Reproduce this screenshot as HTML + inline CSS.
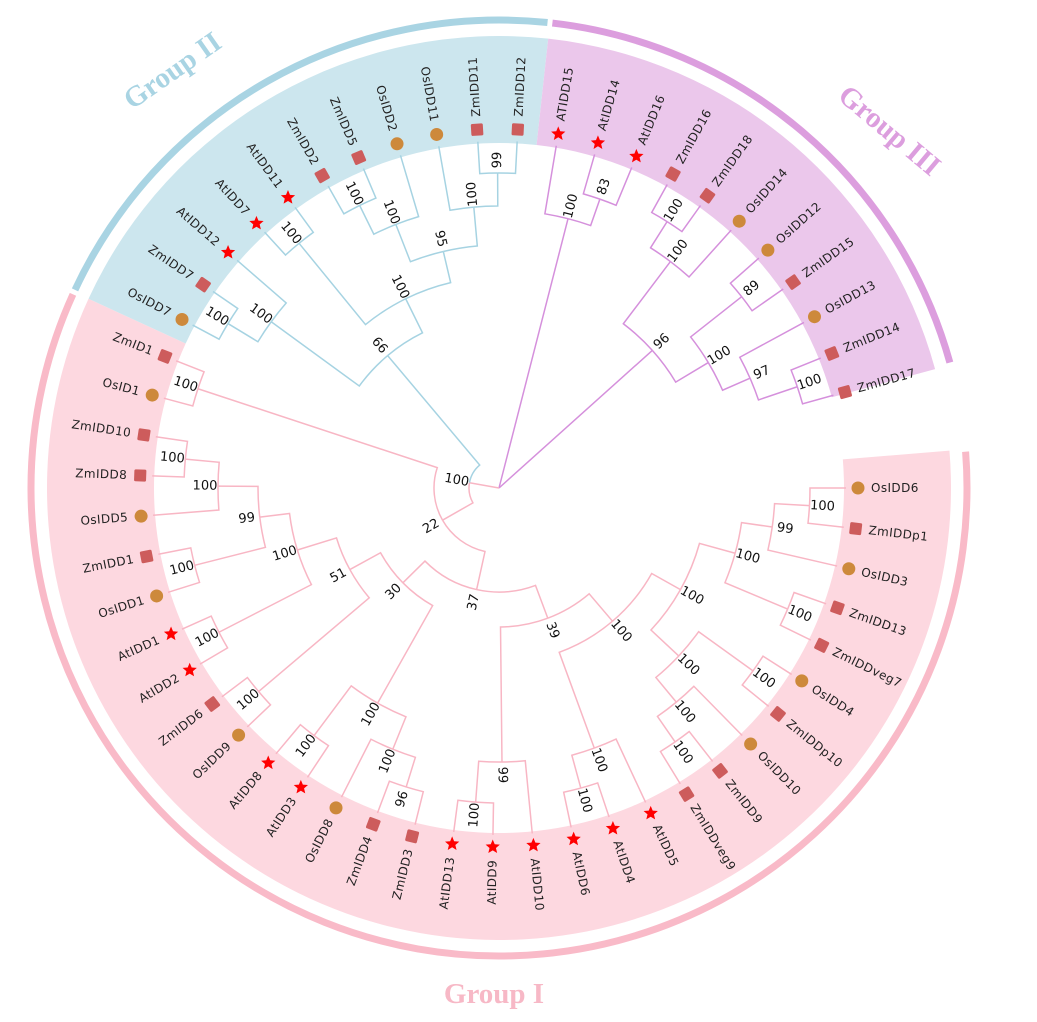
<!DOCTYPE html>
<html><head><meta charset="utf-8"><style>
html,body{margin:0;padding:0;background:#fff;}
svg{display:block;}
.lab{font-family:"DejaVu Sans","Liberation Sans",sans-serif;font-size:12px;fill:#222;letter-spacing:0.4px;}
.bs{font-family:"DejaVu Sans","Liberation Sans",sans-serif;font-size:13px;fill:#111;}
.grp{font-family:"Liberation Serif",serif;font-weight:bold;font-size:29px;}
</style></head><body>
<svg id="tree" width="1037" height="1022" viewBox="0 0 1037 1022" xmlns="http://www.w3.org/2000/svg">
<g id="bandsG"></g>
<g id="branchesG"></g>
<g id="bslabelsG"></g>
<g id="leavesG"></g>
<text class="grp" x="172" y="80" fill="#a9d4e3" text-anchor="middle" transform="rotate(-35 172 70)">Group II</text>
<text class="grp" x="890" y="140" fill="#dc9ede" text-anchor="middle" transform="rotate(40 890 130)">Group III</text>
<text class="grp" x="494" y="1003" fill="#f7b8c6" text-anchor="middle">Group I</text>
</svg>
<script>
const leafNames = ["OsIDD6","ZmIDDp1","OsIDD3","ZmIDD13","ZmIDDveg7","OsIDD4","ZmIDDp10","OsIDD10","ZmIDD9","ZmIDDveg9","AtIDD5","AtIDD4","AtIDD6","AtIDD10","AtIDD9","AtIDD13","ZmIDD3","ZmIDD4","OsIDD8","AtIDD3","AtIDD8","OsIDD9","ZmIDD6","AtIDD2","AtIDD1","OsIDD1","ZmIDD1","OsIDD5","ZmIDD8","ZmIDD10","OsID1","ZmID1",
"OsIDD7","ZmIDD7","AtIDD12","AtIDD7","AtIDD11","ZmIDD2","ZmIDD5","OsIDD2","OsIDD11","ZmIDD11","ZmIDD12",
"ATIDD15","AtIDD14","AtIDD16","ZmIDD16","ZmIDD18","OsIDD14","OsIDD12","ZmIDD15","OsIDD13","ZmIDD14","ZmIDD17"];
const groupSizes = [32, 11, 11];
const groupNames = ["I","II","III"];
function N(r, bs, ...c){ return {r:r, bs:bs, c:c}; }
// Group III
const t46 = N(315,100,46,47);
const t48 = N(284,100,t46,48);
const t49 = N(309,89,49,50);
const t52 = N(315,100,52,53);
const t51 = N(274,97,51,t52);
const t49b = N(244,100,t49,t51);
const g3b = N(206,96,t48,t49b);
const g3a = N(278,100,43,N(306,83,44,45));
// Group II
const a2 = N(282,100,N(317,100,32,33),34);
const b1 = N(316,100,35,36);
const b2 = N(283,100,N(315,100,37,38),39);
const b3 = N(282,100,40,N(315,99,41,42));
const b4 = N(243,95,b2,b3);
const b0 = N(211,100,b1,b4);
const g2 = N(173,66,a2,b0);
// Group I
const c1 = N(282,100,N(313,96,16,17),18);
const c0 = N(247,100,c1,N(309,100,19,20));
const d3 = N(281,100,27,N(315,100,28,29));
const d2 = N(241,99,N(314,100,25,26),d3);
const d1 = N(211,100,N(315,100,23,24),d2);
const d0 = N(170,51,N(315,100,21,22),d1);
const n30 = N(135,30,c0,d0);
const e0 = N(274,99,13,N(315,100,14,15));
const f1 = N(277,100,10,N(311,100,11,12));
const gA = N(245,100,N(276,99,N(311,100,0,1),2),N(313,100,3,4));
const gB = N(246,100,N(313,100,5,6),N(278,100,7,N(309,100,8,9)));
const gR = N(208,100,gA,gB);
const f0 = N(175,100,f1,gR);
const n39 = N(139,39,e0,f0);
const n37 = N(104,37,n30,n39);
const n22 = N(65,22,N(317,100,30,31),n37);
const n100 = N(30,100,g2,n22);
const treeData = N(0,'',g3a,g3b,n100);

const CX=499, CY=488, START=90, STEP=6.5, TIP=347, MARK=359, LABR=372;
const lineCol={I:"#f8b6c4",II:"#a6d3e2",III:"#d590dc",mix:"#f8b6c4"};
const ringCol={I:"#f9bac8",II:"#a9d4e3",III:"#dc9ede"};
const bandCol={I:"#fdd8e0",II:"#cce6ee",III:"#ebc7eb"};
const NS="http://www.w3.org/2000/svg";
function pt(a,r){const t=a*Math.PI/180;return [CX+r*Math.sin(t), CY-r*Math.cos(t)];}
function mk(tag,attrs,parent){const el=document.createElementNS(NS,tag);for(const k in attrs)el.setAttribute(k,attrs[k]);parent.appendChild(el);return el;}
function arcPath(x1,x2,r){const p1=pt(x1,r),p2=pt(x2,r);const sw=x2>x1?1:0;const lg=Math.abs(x2-x1)>180?1:0;return "M"+p1[0]+" "+p1[1]+" A"+r+" "+r+" 0 "+lg+" "+sw+" "+p2[0]+" "+p2[1];}
function leafAngle(i){return START+i*STEP;}
function leafGroup(i){let s=0;for(let g=0;g<groupSizes.length;g++){s+=groupSizes[g];if(i<s)return groupNames[g];}return "I";}

const bandsEl=document.getElementById('bandsG');
let acc=0;
const bandEdges=[];
for(let g=0;g<groupSizes.length;g++){
  const x1=leafAngle(acc)-STEP/2-(g===0?1.5:0), x2=leafAngle(acc+groupSizes[g]-1)+STEP/2+(g===2?-3:0);
  bandEdges.push([x1,x2]); acc+=groupSizes[g];
}
bandEdges.forEach(function(ed,g){
  const G=groupNames[g];
  const ri=345, ro=452;
  const o1=pt(ed[0],ro),o2=pt(ed[1],ro),i1=pt(ed[0],ri),i2=pt(ed[1],ri);
  const lg=(ed[1]-ed[0])>180?1:0;
  const band=mk('path',{d:"M"+i1[0]+" "+i1[1]+" L"+o1[0]+" "+o1[1]+" A"+ro+" "+ro+" 0 "+lg+" 1 "+o2[0]+" "+o2[1]+" L"+i2[0]+" "+i2[1]+" A"+ri+" "+ri+" 0 "+lg+" 0 "+i1[0]+" "+i1[1]+"Z",fill:bandCol[G]},bandsEl);
  
  
  const ring=mk('path',{d:arcPath(ed[0]+0.3,ed[1]-0.3,468),fill:'none',stroke:ringCol[G],'stroke-width':7},bandsEl);
  
  
});

function layout(n){
  if(typeof n==='number'){return {leaf:n,a:leafAngle(n),r:TIP,g:leafGroup(n)};}
  const kids=n.c.map(layout);
  const a=kids.reduce(function(x,k){return x+k.a;},0)/kids.length;
  const gs={};kids.forEach(function(k){gs[k.g]=1;});
  const keys=Object.keys(gs);
  return {a:a,r:n.r,bs:n.bs,kids:kids,g:keys.length===1?keys[0]:'mix'};
}
const rootNode=layout(treeData);
const brEl=document.getElementById('branchesG'), blEl=document.getElementById('bslabelsG');
function draw(n){
  if(!n.kids)return;
  n.kids.forEach(function(k){
    const col=lineCol[k.g];
    let d='';
    if(n.r>0 && Math.abs(k.a-n.a)>0.01){d=arcPath(n.a,k.a,n.r);}
    else {const p=pt(k.a,n.r);d="M"+p[0]+" "+p[1];}
    const p2=pt(k.a,k.r);d+=" L"+p2[0]+" "+p2[1];
    const el=mk('path',{d:d,fill:'none',stroke:col,'stroke-width':1.5},brEl);
    
    
    draw(k);
  });
  if(n.bs!==''){
    const p=pt(n.a,n.r+13);
    const a=((n.a%360)+360)%360;
    const rot=(a>180&&a<353)?a+90:a-90;
    const t=mk('text',{x:p[0],y:p[1],'class':'bs','text-anchor':'middle','dominant-baseline':'central',transform:"rotate("+rot+" "+p[0]+" "+p[1]+")"},blEl);
    t.textContent=String(n.bs);
    
    
  }
}
draw(rootNode);

const lvEl=document.getElementById('leavesG');
function starPts(x,y,R){const out=[];for(let i=0;i<10;i++){const r=i%2?R*0.45:R;const t=(i*36-90)*Math.PI/180;out.push((x+r*Math.cos(t)).toFixed(2)+','+(y+r*Math.sin(t)).toFixed(2));}return out.join(' ');}
leafNames.forEach(function(nm,i){
  const a=leafAngle(i);
  const m=pt(a,MARK);
  const na=((a%360)+360)%360;
  let mEl;
  if(nm.indexOf('Os')===0){mEl=mk('circle',{cx:m[0],cy:m[1],r:6.5,fill:'#cd893b'},lvEl);}
  else if(nm.indexOf('Zm')===0){mEl=mk('rect',{x:m[0]-6,y:m[1]-6,width:12,height:12,rx:1.5,fill:'#cd5c5c',transform:"rotate("+na+" "+m[0]+" "+m[1]+")"},lvEl);}
  else {mEl=mk('polygon',{points:starPts(m[0],m[1],7.5),fill:'#ff0000'},lvEl);}
  
  
  const flip=(na>180&&na<353);
  const p=pt(a,LABR);
  const rot=flip?na+90:na-90;
  const t=mk('text',{x:p[0],y:p[1],'class':'lab','text-anchor':flip?'end':'start','dominant-baseline':'central',transform:"rotate("+rot+" "+p[0]+" "+p[1]+")"},lvEl);
  t.textContent=nm;
  
  
});
</script>
</body></html>
